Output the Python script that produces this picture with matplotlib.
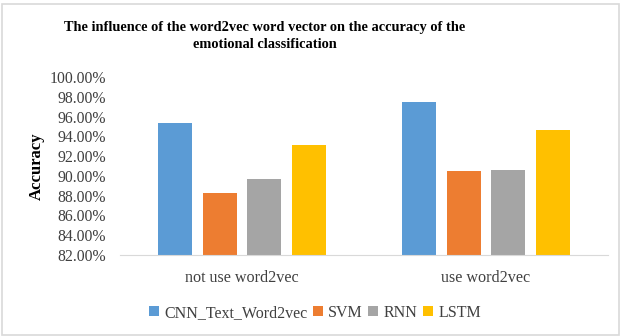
import numpy as np
import matplotlib.pyplot as plt
from matplotlib.patches import Rectangle

plt.rcParams['font.family'] = ['Liberation Serif', 'DejaVu Serif']

groups = ['not use word2vec', 'use word2vec']
models = ['CNN_Text_Word2vec', 'SVM', 'RNN', 'LSTM']
accuracy = {
    'CNN_Text_Word2vec': [95.32, 97.50],
    'SVM': [88.24, 90.49],
    'RNN': [89.65, 90.60],
    'LSTM': [93.15, 94.64],
}
colors = ['#5B9BD5', '#ED7D31', '#A5A5A5', '#FFC000']
yticks = np.arange(82, 100.1, 2)

fig = plt.figure(figsize=(6.21, 3.36), dpi=100)
ax = fig.add_axes([120 / 621, 1 - 255 / 336, 488 / 621, 178 / 336])

x = np.arange(len(groups))
width = 0.14
step = 0.182
for i, m in enumerate(models):
    off = (i - 1.5) * step
    ax.bar(x + off, np.array(accuracy[m]) - 82, width, bottom=82,
           color=colors[i], label=m)

ax.set_xlim(-0.5, 1.5)
ax.set_ylim(82, 100)
ax.set_yticks(yticks)
ax.set_yticklabels(['%.2f%%' % v for v in yticks], fontsize=11.3, color='#404040')
ax.set_xticks(x)
ax.set_xticklabels(groups, fontsize=11.6, color='#404040')
ax.tick_params(axis='both', length=0)
ax.tick_params(axis='y', pad=10)
ax.tick_params(axis='x', pad=11)
for s in ['top', 'right', 'left']:
    ax.spines[s].set_visible(False)
ax.spines['bottom'].set_color('#D9D9D9')

ax.set_ylabel('Accuracy', fontsize=12, fontweight='bold')
ax.yaxis.set_label_coords(-0.155, 0.5)

fig.text(265 / 621, 1 - 36 / 336,
         'The influence of the word2vec word vector on the accuracy of the\nemotional classification',
         ha='center', va='center', fontsize=10.4, fontweight='bold', linespacing=1.4)

ax.legend(loc='center', bbox_to_anchor=(315 / 621, 1 - 313 / 336),
          bbox_transform=fig.transFigure, ncol=4, frameon=False,
          fontsize=11.5, handlelength=0.6, handleheight=0.6,
          handletextpad=0.35, columnspacing=0.35, labelcolor='#404040')

fig.patches.append(Rectangle((0.004, 0.004), 0.992, 0.985, transform=fig.transFigure,
                             fill=False, edgecolor='#D9D9D9', lw=1.2))

fig.savefig('out.png', dpi=100)
